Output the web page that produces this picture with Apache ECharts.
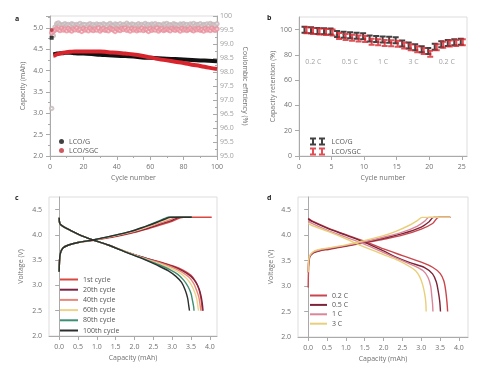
<!DOCTYPE html>
<html><head><meta charset="utf-8">
<script src="https://cdn.jsdelivr.net/npm/echarts@6/dist/echarts.min.js"></script>
<style>html,body{margin:0;padding:0;background:#fff}#c{width:480px;height:384px}</style>
</head><body><div id="c"></div>
<script>
// ---------- Panel a data ----------
const capCycles = [2,3,4,5,6,8,10,12,15,20,25,30,35,40,45,50,55,60,65,70,75,80,85,90,95,100];
const capG = [4.38,4.39,4.40,4.40,4.41,4.41,4.42,4.42,4.41,4.40,4.39,4.37,4.36,4.35,4.34,4.33,4.31,4.30,4.29,4.28,4.27,4.26,4.25,4.24,4.23,4.22];
const capS = [4.35,4.36,4.38,4.39,4.40,4.42,4.43,4.44,4.45,4.45,4.45,4.45,4.43,4.42,4.40,4.38,4.35,4.31,4.27,4.24,4.21,4.18,4.14,4.11,4.07,4.04];
const firstCycle = 1;
const capFirstG = 4.77;
const capFirstS = 4.95;
const ceG = [
96.7,99.3,99.6,99.72,99.75,99.7,99.65,99.7,99.72,99.68,
99.7,99.66,99.72,99.7,99.64,99.7,99.68,99.73,99.66,99.7,
99.69,99.62,99.7,99.72,99.67,99.7,99.65,99.71,99.68,99.7,
99.66,99.72,99.69,99.64,99.7,99.73,99.68,99.66,99.71,99.7,
99.67,99.72,99.65,99.7,99.68,99.74,99.69,99.66,99.71,99.7,
99.64,99.69,99.72,99.67,99.7,99.66,99.73,99.68,99.7,99.65,
99.71,99.69,99.72,99.66,99.7,99.68,99.64,99.71,99.7,99.73,
99.67,99.69,99.66,99.72,99.7,99.68,99.65,99.71,99.69,99.72,
99.67,99.7,99.64,99.71,99.68,99.73,99.66,99.7,99.69,99.72,
99.65,99.7,99.68,99.71,99.66,99.73,99.69,99.7,99.67,99.72];
const ceS = [
99.4,99.45,99.5,99.55,99.52,99.48,99.56,99.5,99.53,99.47,
99.55,99.5,99.46,99.54,99.51,99.57,99.49,99.52,99.45,99.55,
99.5,99.53,99.47,99.56,99.51,99.48,99.54,99.5,99.57,99.46,
99.52,99.55,99.49,99.51,99.47,99.56,99.53,99.5,99.45,99.54,
99.51,99.48,99.55,99.52,99.57,99.49,99.53,99.46,99.55,99.5,
99.54,99.47,99.52,99.5,99.56,99.48,99.53,99.51,99.45,99.55,
99.49,99.53,99.5,99.57,99.46,99.52,99.55,99.48,99.51,99.54,
99.5,99.47,99.56,99.52,99.49,99.54,99.51,99.46,99.55,99.5,
99.53,99.48,99.52,99.56,99.5,99.47,99.54,99.51,99.55,99.49,
99.52,99.46,99.55,99.5,99.53,99.48,99.56,99.51,99.49,99.54];

// ---------- Panel b data ----------
const retCycles = [1,2,3,4,5,6,7,8,9,10,11,12,13,14,15,16,17,18,19,20,21,22,23,24,25];
const retG = [100,99.5,99,98.8,98.5,96.5,96,95.5,95.2,94.8,93,92.5,92.2,92,91.6,89,87.5,86,84.5,83,86.5,88.5,89.5,90,90.5];
const retS = [99.5,99,98.5,98.2,97.8,95,94.2,93.5,93,92.5,90.5,90,89.5,89.2,88.8,87.5,86,84.5,83,81,86,88,89,89.5,90];
const rateLabels = ['0.2 C','0.5 C','1 C','3 C','0.2 C'];
const rateX = [2.2,7.8,12.9,17.6,22.7];
const rateY = 74;

// ---------- Panel c data ----------
const cycleNames = ['1st cycle','20th cycle','40th cycle','60th cycle','80th cycle','100th cycle'];
const chargeC = [
 [[0,3.27],[0.01,3.5],[0.03,3.63],[0.1,3.74],[0.25,3.8],[0.5,3.85],[0.9,3.89],[1.4,3.95],[1.9,4.03],[2.3,4.11],[2.7,4.2],[3.0,4.27],[3.3,4.35],[4.05,4.35]],
 [[0,3.27],[0.01,3.5],[0.03,3.63],[0.1,3.74],[0.25,3.8],[0.5,3.85],[0.9,3.9],[1.4,3.96],[1.9,4.04],[2.3,4.12],[2.7,4.22],[3.0,4.29],[3.2,4.35],[3.52,4.35]],
 [[0,3.27],[0.01,3.5],[0.03,3.63],[0.1,3.74],[0.25,3.8],[0.5,3.85],[0.9,3.9],[1.4,3.97],[1.9,4.05],[2.3,4.14],[2.7,4.24],[2.95,4.3],[3.12,4.35],[3.52,4.35]],
 [[0,3.27],[0.01,3.5],[0.03,3.63],[0.1,3.74],[0.25,3.8],[0.5,3.85],[0.9,3.9],[1.4,3.97],[1.9,4.06],[2.3,4.15],[2.6,4.24],[2.85,4.31],[3.02,4.35],[3.52,4.35]],
 [[0,3.27],[0.01,3.5],[0.03,3.63],[0.1,3.74],[0.25,3.8],[0.5,3.85],[0.9,3.9],[1.4,3.98],[1.9,4.07],[2.3,4.17],[2.6,4.26],[2.78,4.32],[2.9,4.35],[3.52,4.35]],
 [[0,3.27],[0.01,3.5],[0.03,3.63],[0.1,3.74],[0.25,3.8],[0.5,3.85],[0.9,3.9],[1.4,3.98],[1.9,4.07],[2.3,4.17],[2.6,4.25],[2.8,4.31],[2.95,4.35],[3.52,4.35]]
];
const dischargeC = [
 [[0,4.34],[0.02,4.22],[0.1,4.17],[0.3,4.09],[0.6,3.98],[0.9,3.9],[1.3,3.8],[1.8,3.66],[2.3,3.54],[2.7,3.46],[3.0,3.39],[3.3,3.3],[3.5,3.2],[3.62,3.08],[3.7,2.95],[3.75,2.8],[3.78,2.65],[3.8,2.5]],
 [[0,4.34],[0.02,4.22],[0.1,4.17],[0.3,4.09],[0.6,3.98],[0.9,3.9],[1.3,3.8],[1.8,3.66],[2.3,3.54],[2.7,3.45],[3.0,3.38],[3.3,3.28],[3.5,3.18],[3.63,3.06],[3.72,2.92],[3.77,2.78],[3.8,2.64],[3.82,2.5]],
 [[0,4.34],[0.02,4.22],[0.1,4.17],[0.3,4.09],[0.6,3.98],[0.9,3.9],[1.3,3.8],[1.8,3.66],[2.3,3.53],[2.7,3.44],[3.0,3.36],[3.25,3.27],[3.45,3.16],[3.57,3.04],[3.65,2.9],[3.71,2.76],[3.74,2.62],[3.76,2.5]],
 [[0,4.34],[0.02,4.22],[0.1,4.17],[0.3,4.09],[0.6,3.98],[0.9,3.9],[1.3,3.8],[1.8,3.66],[2.3,3.52],[2.7,3.42],[3.0,3.33],[3.2,3.25],[3.38,3.14],[3.5,3.02],[3.59,2.88],[3.65,2.74],[3.68,2.6],[3.7,2.5]],
 [[0,4.34],[0.02,4.22],[0.1,4.17],[0.3,4.09],[0.6,3.98],[0.9,3.9],[1.3,3.8],[1.8,3.65],[2.3,3.51],[2.65,3.41],[2.95,3.31],[3.15,3.22],[3.3,3.11],[3.42,2.98],[3.5,2.84],[3.54,2.7],[3.57,2.58],[3.58,2.5]],
 [[0,4.34],[0.02,4.22],[0.1,4.17],[0.3,4.09],[0.6,3.98],[0.9,3.9],[1.3,3.8],[1.8,3.65],[2.3,3.5],[2.6,3.4],[2.9,3.29],[3.1,3.18],[3.25,3.06],[3.35,2.9],[3.41,2.75],[3.44,2.6],[3.46,2.5]]
];

// ---------- Panel d data ----------
const rateNames = ['0.2 C','0.5 C','1 C','3 C'];
const chargeD = [
 [[0,2.97],[0.01,3.3],[0.04,3.56],[0.14,3.65],[0.3,3.69],[0.54,3.72],[1.0,3.78],[1.42,3.84],[2.0,3.92],[2.5,4.0],[3.0,4.12],[3.3,4.23],[3.46,4.35],[3.77,4.35]],
 [[0,3.27],[0.01,3.45],[0.04,3.58],[0.14,3.66],[0.3,3.7],[0.54,3.73],[1.0,3.79],[1.42,3.85],[2.0,3.94],[2.5,4.03],[3.0,4.16],[3.2,4.26],[3.33,4.35],[3.77,4.35]],
 [[0,3.27],[0.01,3.47],[0.04,3.59],[0.14,3.67],[0.3,3.71],[0.54,3.74],[1.0,3.8],[1.42,3.86],[2.0,3.96],[2.5,4.06],[2.9,4.18],[3.1,4.28],[3.2,4.35],[3.77,4.35]],
 [[0,3.27],[0.01,3.5],[0.04,3.6],[0.14,3.68],[0.3,3.72],[0.54,3.75],[1.0,3.81],[1.42,3.88],[2.0,3.99],[2.31,4.07],[2.7,4.2],[2.9,4.29],[3.02,4.35],[3.77,4.35]]
];
const dischargeD = [
 [[0,4.33],[0.1,4.28],[0.5,4.15],[1.0,4.01],[1.5,3.88],[2.0,3.73],[2.5,3.6],[3.0,3.47],[3.3,3.37],[3.5,3.25],[3.6,3.1],[3.65,2.9],[3.68,2.7],[3.7,2.5]],
 [[0,4.32],[0.1,4.27],[0.5,4.14],[1.0,4.0],[1.5,3.86],[2.0,3.69],[2.3,3.58],[2.7,3.46],[3.1,3.36],[3.3,3.24],[3.4,3.08],[3.45,2.9],[3.49,2.7],[3.51,2.5]],
 [[0,4.28],[0.1,4.23],[0.5,4.1],[1.0,3.96],[1.5,3.82],[2.0,3.66],[2.4,3.53],[2.8,3.4],[3.05,3.3],[3.18,3.17],[3.25,3.0],[3.28,2.8],[3.3,2.65],[3.31,2.5]],
 [[0,4.23],[0.1,4.19],[0.54,4.07],[1.0,3.93],[1.42,3.79],[2.0,3.62],[2.4,3.5],[2.7,3.38],[2.85,3.3],[2.96,3.18],[3.04,3.02],[3.09,2.85],[3.12,2.68],[3.13,2.5]]
];

const capTicks = [0,0.5,1,1.5,2,2.5,3,3.5,4];

// ---------- styling ----------
const FONT = 'Open Sans';
const FS = 7;
const lblCol = '#707070';
const axCol = '#aaa';
const cycleColors = ['#d9473f','#7b2342','#e8877a','#ecd48c','#3f8f73','#2b2f2f'];
const rateColors = ['#c9464c','#7d2438','#d9869a','#e9cf7a'];
const ibeam = 'path://M0,0H6V2H4V6H6V8H0V6H2V2H0Z';
const ibeam2 = 'path://M0,0H6V2H4V6H6V8H0V6H2V2H0ZM9,0H15V2H13V6H15V8H9V6H11V2H9Z';

function axisBase(extra) {
  return Object.assign({
    axisLine: {show: true, lineStyle: {color: axCol, width: 1}},
    axisTick: {show: true, inside: false, length: 4, lineStyle: {color: axCol}},
    axisLabel: {color: lblCol, fontSize: FS, fontFamily: FONT, margin: 7},
    splitLine: {show: false},
    nameTextStyle: {color: lblCol, fontSize: FS, fontFamily: FONT},
    nameLocation: 'middle'
  }, extra);
}
function deepAxis(base, over) {
  const o = axisBase(base);
  for (const k in over) o[k] = Object.assign({}, o[k] || {}, over[k]);
  return o;
}

const grids = [
  {left: 50, top: 16, width: 167, height: 140, show: true, borderColor: '#ddd', borderWidth: 1},
  {left: 299, top: 17, width: 168, height: 139, show: true, borderColor: '#ddd', borderWidth: 1},
  {left: 49, top: 197, width: 168, height: 139, show: true, borderColor: '#ddd', borderWidth: 1},
  {left: 298, top: 197, width: 170, height: 140, show: true, borderColor: '#ddd', borderWidth: 1}
];

const xAxes = [
  deepAxis({gridIndex: 0, type: 'value', min: 0, max: 100, interval: 20, name: 'Cycle number', nameGap: 18,
    minorTick: {show: true, splitNumber: 2, length: 2, lineStyle: {color: axCol}}}, {}),
  deepAxis({gridIndex: 1, type: 'value', min: 0, max: 25.8, interval: 5, name: 'Cycle number', nameGap: 18}, {axisLabel: {showMaxLabel: false}}),
  deepAxis({gridIndex: 2, type: 'value', min: -0.27, max: 4.19, name: 'Capacity (mAh)', nameGap: 18}, {axisLabel: {customValues: capTicks, formatter: v => v.toFixed(1)}, axisTick: {customValues: capTicks}}),
  deepAxis({gridIndex: 3, type: 'value', min: -0.27, max: 4.24, name: 'Capacity (mAh)', nameGap: 18}, {axisLabel: {customValues: capTicks, formatter: v => v.toFixed(1)}, axisTick: {customValues: capTicks}})
];

const yAxes = [
  deepAxis({gridIndex: 0, type: 'value', min: 2, max: 5.28, interval: 0.5, name: 'Capacity (mAh)', nameGap: 24,
    minorTick: {show: true, splitNumber: 2, length: 2, lineStyle: {color: axCol}}}, {axisLabel: {showMaxLabel: false, formatter: v => v.toFixed(1)}}),
  deepAxis({gridIndex: 0, type: 'value', position: 'right', min: 95, max: 100, interval: 0.5, name: 'Coulombic efficiency (%)', nameGap: 24, nameRotate: -90,
    minorTick: {show: true, splitNumber: 2, length: 2, lineStyle: {color: axCol}}},
    {axisTick: {inside: true}, axisLabel: {color: '#a0a0a0', margin: 3, formatter: v => (v === 100 ? '100' : v.toFixed(1))}}),
  deepAxis({gridIndex: 1, type: 'value', min: 0, max: 110, interval: 20, name: 'Capacity retention (%)', nameGap: 18}, {axisLabel: {showMaxLabel: false}}),
  deepAxis({gridIndex: 2, type: 'value', min: 2, max: 4.75, interval: 0.5, name: 'Voltage (V)', nameGap: 25}, {axisLabel: {showMaxLabel: false, formatter: v => v.toFixed(1)}}),
  deepAxis({gridIndex: 3, type: 'value', min: 2, max: 4.75, interval: 0.5, name: 'Voltage (V)', nameGap: 24}, {axisLabel: {showMaxLabel: false, formatter: v => v.toFixed(1)}})
];

const series = [];
// Panel a
series.push({name: 'LCO/G', type: 'scatter', xAxisIndex: 0, yAxisIndex: 0, data: [[firstCycle, capFirstG]], symbol: 'rect', symbolSize: 4, itemStyle: {color: '#111'}, z: 5});
series.push({name: 'LCO/SGC', type: 'scatter', xAxisIndex: 0, yAxisIndex: 0, data: [[firstCycle, capFirstS]], symbol: 'circle', symbolSize: 4, itemStyle: {color: '#b0303a'}, z: 5});
series.push({name: 'ceG', type: 'scatter', xAxisIndex: 0, yAxisIndex: 1, data: ceG.map((v, i) => [i + 1, v]), symbol: 'emptyCircle', symbolSize: 3.5, itemStyle: {color: '#c4b6b9', borderWidth: 0.7}});
series.push({name: 'ceS', type: 'scatter', xAxisIndex: 0, yAxisIndex: 1, data: ceS.map((v, i) => [i + 1, v]), symbol: 'emptyCircle', symbolSize: 3.5, itemStyle: {color: '#e8909c', borderWidth: 0.7}});
series.push({name: 'capG', type: 'line', xAxisIndex: 0, yAxisIndex: 0, data: capCycles.map((c, i) => [c, capG[i]]), showSymbol: false, smooth: true, color: '#111', lineStyle: {width: 4, color: '#111'}});
series.push({name: 'capS', type: 'line', xAxisIndex: 0, yAxisIndex: 0, data: capCycles.map((c, i) => [c, capS[i]]), showSymbol: false, smooth: true, color: '#d8242c', lineStyle: {width: 4, color: '#d8242c'}});
// Panel b
series.push({name: 'retG', type: 'scatter', xAxisIndex: 1, yAxisIndex: 2, data: retCycles.map((c, i) => [c, retG[i]]), symbol: ibeam, symbolSize: [6, 8], symbolOffset: [-1, 0], itemStyle: {color: '#111'}});
series.push({name: 'retS', type: 'scatter', xAxisIndex: 1, yAxisIndex: 2, data: retCycles.map((c, i) => [c, retS[i]]), symbol: ibeam, symbolSize: [6, 8], symbolOffset: [1, 0], itemStyle: {color: '#d8242c'}});
series.push({name: 'rates', type: 'scatter', xAxisIndex: 1, yAxisIndex: 2, silent: true, symbolSize: 0,
  data: rateX.map((x, i) => ({value: [x, rateY], label: {formatter: rateLabels[i]}})),
  label: {show: true, position: 'inside', color: '#888', fontSize: 7, fontFamily: FONT}});
// Panel c
cycleNames.forEach((n, i) => {
  [chargeC[i], dischargeC[i]].forEach(d => series.push({name: n, type: 'line', xAxisIndex: 2, yAxisIndex: 3, data: d, showSymbol: false, smooth: 0.3, color: cycleColors[i], lineStyle: {width: 1.4, color: cycleColors[i]}}));
});
// Panel d
rateNames.forEach((n, i) => {
  [chargeD[i], dischargeD[i]].forEach(d => series.push({name: n, type: 'line', xAxisIndex: 3, yAxisIndex: 4, data: d, showSymbol: false, smooth: 0.3, color: rateColors[i], lineStyle: {width: 1.4, color: rateColors[i]}}));
});

const legTxt = {color: '#555', fontSize: FS, fontFamily: FONT, lineHeight: 9};
const legends = [
  {left: 54, top: 132, orient: 'vertical', itemGap: 0, itemWidth: 5, itemHeight: 5, selectedMode: false, textStyle: legTxt,
   data: [{name: 'LCO/G', icon: 'circle', itemStyle: {color: '#111'}}, {name: 'LCO/SGC', icon: 'circle', itemStyle: {color: '#c0303a'}}]},
  {left: 305, top: 132, orient: 'vertical', itemGap: 1, itemWidth: 18, itemHeight: 8, selectedMode: false, textStyle: legTxt,
   data: [{name: 'LCO/G', icon: ibeam2, itemStyle: {color: '#111'}}, {name: 'LCO/SGC', icon: ibeam2, itemStyle: {color: '#d8242c'}}]},
  {left: 55, top: 270, orient: 'vertical', itemGap: 1.2, itemWidth: 18, itemHeight: 2, selectedMode: false, textStyle: legTxt,
   data: cycleNames.map((n, i) => ({name: n, icon: 'rect', itemStyle: {color: cycleColors[i]}}))},
  {left: 305, top: 286, orient: 'vertical', itemGap: 0.4, itemWidth: 17, itemHeight: 2, selectedMode: false, textStyle: legTxt,
   data: rateNames.map((n, i) => ({name: n, icon: 'rect', itemStyle: {color: rateColors[i]}}))}
];

const panelLetter = (t, x, y) => ({type: 'text', left: x, top: y, style: {text: t, fill: '#222', font: 'bold 7px ' + FONT}});

const chart = echarts.init(document.getElementById('c'), null, {renderer: 'canvas'});
chart.setOption({
  animation: false,
  backgroundColor: '#fff',
  textStyle: {fontFamily: FONT},
  grid: grids,
  xAxis: xAxes,
  yAxis: yAxes,
  legend: legends,
  series: series,
  graphic: [panelLetter('a', 15, 15), panelLetter('b', 267, 14), panelLetter('c', 15, 194), panelLetter('d', 267, 194)]
});
</script>
</body></html>
